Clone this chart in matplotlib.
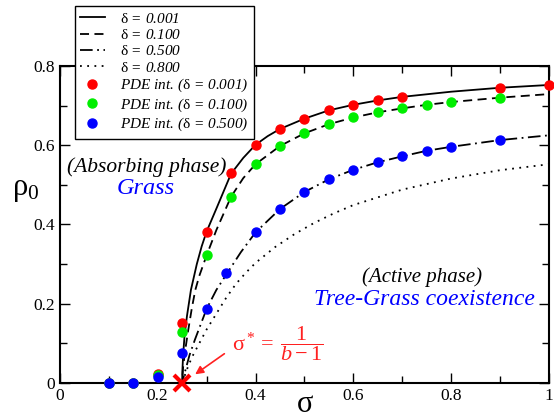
import matplotlib
matplotlib.use("Agg")
import matplotlib.pyplot as plt
from matplotlib.ticker import MultipleLocator

plt.rcParams['font.family'] = ['Liberation Serif', 'DejaVu Serif']
plt.rcParams['mathtext.fontset'] = 'custom'
plt.rcParams['mathtext.rm'] = 'Liberation Serif'
plt.rcParams['mathtext.it'] = 'Liberation Serif:italic'

# mean-field curves
s_001 = [0.0, 0.25, 0.2505, 0.252, 0.255, 0.26, 0.268, 0.28, 0.29, 0.30, 0.32, 0.35, 0.375, 0.40,
         0.425, 0.45, 0.50, 0.55, 0.60, 0.65, 0.70, 0.80, 0.90, 1.0]
r_001 = [0.0, 0.0, 0.03, 0.07, 0.12, 0.17, 0.235, 0.30, 0.345, 0.382, 0.44, 0.528, 0.568, 0.601,
         0.623, 0.641, 0.667, 0.688, 0.702, 0.713, 0.722, 0.735, 0.745, 0.752]

s_100 = [0.0, 0.25, 0.252, 0.256, 0.262, 0.27, 0.277, 0.285, 0.30, 0.32, 0.35, 0.375, 0.40, 0.45,
         0.50, 0.55, 0.60, 0.65, 0.70, 0.75, 0.80, 0.90, 1.0]
r_100 = [0.0, 0.0, 0.04, 0.08, 0.13, 0.19, 0.235, 0.27, 0.322, 0.386, 0.47, 0.517, 0.552, 0.598,
         0.630, 0.653, 0.670, 0.683, 0.693, 0.702, 0.709, 0.720, 0.729]

s_500 = [0.0, 0.25, 0.254, 0.265, 0.276, 0.30, 0.32, 0.342, 0.37, 0.40, 0.45, 0.50, 0.55, 0.60,
         0.65, 0.70, 0.75, 0.80, 0.90, 1.0]
r_500 = [0.0, 0.0, 0.02, 0.07, 0.109, 0.187, 0.235, 0.277, 0.33, 0.380, 0.439, 0.482, 0.514, 0.538,
         0.557, 0.572, 0.586, 0.596, 0.613, 0.625]

s_800 = [0.0, 0.25, 0.26, 0.27, 0.285, 0.30, 0.32, 0.34, 0.36, 0.38, 0.40, 0.44, 0.48, 0.52,
         0.56, 0.60, 0.70, 0.80, 0.90, 1.0]
r_800 = [0.0, 0.0, 0.035, 0.065, 0.10, 0.135, 0.175, 0.215, 0.25, 0.278, 0.303, 0.343, 0.376, 0.404,
         0.428, 0.449, 0.488, 0.516, 0.537, 0.552]

# PDE integration points
pde_s_001 = [0.10, 0.15, 0.20, 0.25, 0.30, 0.35, 0.40, 0.45, 0.50, 0.55, 0.60, 0.65, 0.70, 0.90, 1.0]
pde_r_001 = [0.0, 0.0, 0.024, 0.152, 0.382, 0.529, 0.601, 0.641, 0.667, 0.688, 0.702, 0.713, 0.722,
             0.745, 0.752]

pde_s_100 = [0.10, 0.15, 0.20, 0.25, 0.30, 0.35, 0.40, 0.45, 0.50, 0.55, 0.60, 0.65, 0.70, 0.75,
             0.80, 0.90]
pde_r_100 = [0.0, 0.0, 0.020, 0.128, 0.322, 0.470, 0.552, 0.598, 0.630, 0.653, 0.670, 0.683, 0.693,
             0.702, 0.709, 0.720]

pde_s_500 = [0.10, 0.15, 0.20, 0.25, 0.30, 0.34, 0.40, 0.45, 0.50, 0.55, 0.60, 0.65, 0.70, 0.75,
             0.80, 0.90]
pde_r_500 = [0.0, 0.0, 0.016, 0.075, 0.187, 0.277, 0.380, 0.439, 0.482, 0.514, 0.538, 0.557, 0.572,
             0.586, 0.596, 0.614]

sigma_star = 0.25
x_ticks = [0, 0.2, 0.4, 0.6, 0.8, 1.0]
x_labels = ['0', '0.2', '0.4', '0.6', '0.8', '1']
y_ticks = [0, 0.2, 0.4, 0.6, 0.8]
y_labels = ['0', '0.2', '0.4', '0.6', '0.8']

fig = plt.figure(figsize=(5.54, 4.2), dpi=100)
ax = fig.add_axes([0.108, 0.088, 0.883, 0.755])

lw = 1.3
ax.plot(s_001, r_001, color='black', lw=lw, label=r'$\mathrm{\delta}$ = 0.001')
ax.plot(s_100, r_100, color='black', lw=lw, dashes=(5, 3), label=r'$\mathrm{\delta}$ = 0.100')
ax.plot(s_500, r_500, color='black', lw=lw, dashes=(7, 2.5, 1, 2.5), label=r'$\mathrm{\delta}$ = 0.500')
ax.plot(s_800, r_800, color='black', lw=lw, dashes=(1, 3), label=r'$\mathrm{\delta}$ = 0.800')

ms = 6.5
ax.plot(pde_s_001, pde_r_001, 'o', color='#ff0000', ms=ms, clip_on=False, zorder=5,
        label=r'PDE int. ($\mathrm{\delta}$ = 0.001)')
ax.plot(pde_s_100, pde_r_100, 'o', color='#00ee00', ms=ms, clip_on=False, zorder=5,
        label=r'PDE int. ($\mathrm{\delta}$ = 0.100)')
ax.plot(pde_s_500, pde_r_500, 'o', color='#0000ff', ms=ms, clip_on=False, zorder=5,
        label=r'PDE int. ($\mathrm{\delta}$ = 0.500)')

ax.plot([sigma_star], [0], 'x', color='#ff0000', ms=11, mew=3, clip_on=False, zorder=6)

ax.set_xlim(0, 1)
ax.set_ylim(0, 0.8)
ax.set_xticks(x_ticks)
ax.set_xticklabels(x_labels)
ax.set_yticks(y_ticks)
ax.set_yticklabels(y_labels)
ax.xaxis.set_minor_locator(MultipleLocator(0.1))
ax.yaxis.set_minor_locator(MultipleLocator(0.1))
ax.tick_params(which='both', direction='in', top=True, right=True, labelsize=12.5, width=1)
ax.tick_params(which='major', length=7)
ax.tick_params(which='minor', length=5)
for sp in ax.spines.values():
    sp.set_linewidth(1.5)

fig.text(0.55, 0.002, 'σ', fontsize=22, ha='center', va='bottom')
fig.text(0.022, 0.535, r'$\mathrm{\rho}_0$', fontsize=22)

ax.text(0.178, 0.545, '(Absorbing phase)', fontsize=15.5, style='italic', ha='center', va='center')
ax.text(0.175, 0.491, 'Grass', fontsize=17.5, style='italic', color='#0000ff', ha='center', va='center')
ax.text(0.74, 0.267, '(Active phase)', fontsize=15, style='italic', ha='center', va='center')
ax.text(0.745, 0.212, 'Tree-Grass coexistence', fontsize=17, style='italic', color='#0000ff',
        ha='center', va='center')
ax.text(0.352, 0.1, r'$\mathrm{\sigma}^* = \;\dfrac{\mathit{1}}{\mathit{b-1}}$', fontsize=16,
        color='#ff2020', va='center')
ax.annotate('', xy=(0.272, 0.018), xytext=(0.341, 0.078),
            arrowprops=dict(arrowstyle='-|>', color='#ff2020', lw=1.2, mutation_scale=12))

leg = fig.legend(loc='upper left', bbox_to_anchor=(0.135, 0.985), borderaxespad=0,
                 prop=dict(family='Liberation Serif', style='italic', size=11),
                 fancybox=False, edgecolor='black', framealpha=1, handlelength=1.6,
                 handletextpad=1.0, labelspacing=0.15, borderpad=0.35)
leg.get_frame().set_linewidth(1.0)

fig.savefig('out.png', dpi=100)
